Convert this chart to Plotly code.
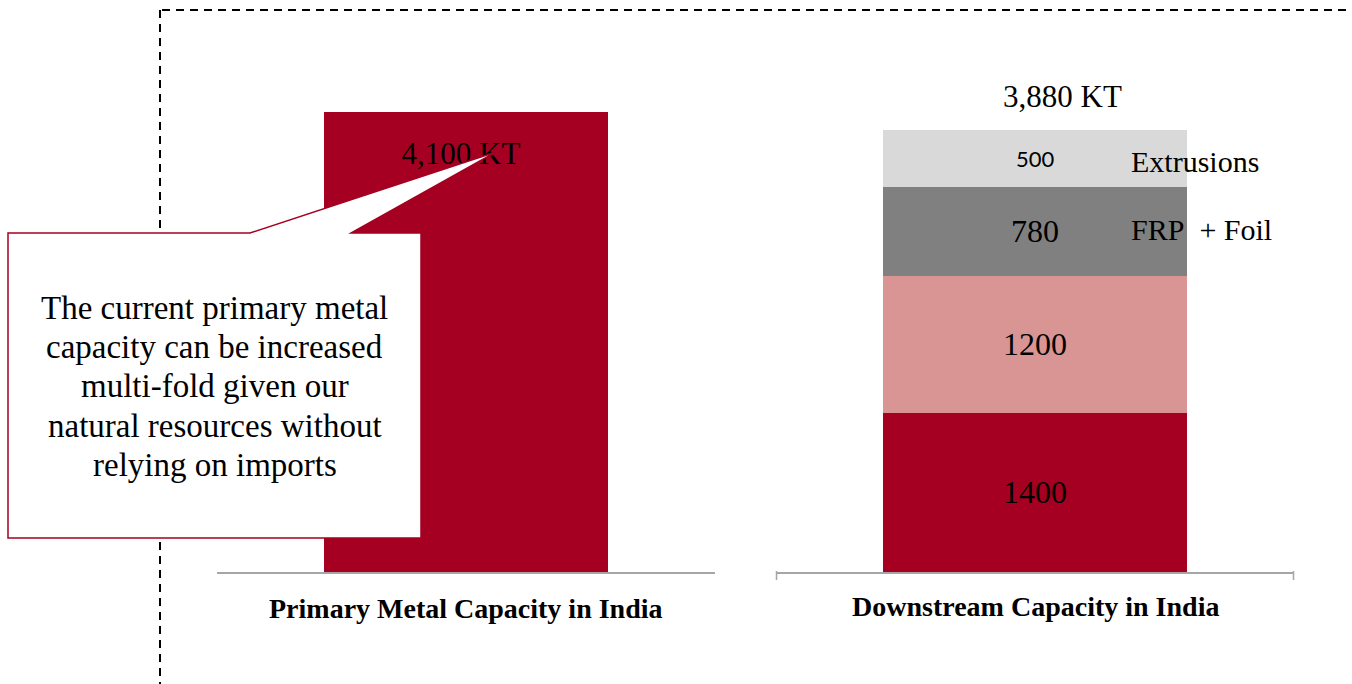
import plotly.graph_objects as go

W, H = 1352, 684

# ---- data ----
primary_category = ["Primary Metal Capacity in India"]
primary_value = [4100]
primary_label = "4,100 KT"

downstream_category = ["Downstream Capacity in India"]
segment_names = ["Rolled", "Sheet", "FRP + Foil", "Extrusions"]
segment_values = [1400, 1200, 780, 500]
segment_colors = ["#A50021", "#D99594", "#808080", "#D9D9D9"]
downstream_total_label = "3,880 KT"
legend_labels = ["FRP + Foil", "Extrusions"]

callout_lines = ["The current primary metal", "capacity can be increased",
                 "multi-fold given our", "natural resources without",
                 "relying on imports"]

SERIF = "Liberation Serif"
SANS = "Lato"

def px(x):
    return x / W

def py(y):
    return 1 - y / H

# plot geometry (pixels)
AXIS_Y = 572
bottom = 1 - AXIS_Y / H
y1_range = 4100 * AXIS_Y / 460
y2_range = 3880 * AXIS_Y / 442
unit1 = y1_range / AXIS_Y  # data units per pixel, left

fig = go.Figure()

fig.add_trace(go.Bar(x=[0], y=primary_value, marker_color="#A50021", marker_line_width=0,
                     width=0.572, xaxis="x", yaxis="y", showlegend=False,
                     hoverinfo="skip"))
# value label drawn in trace layer so the callout pointer overlaps it
fig.add_trace(go.Scatter(x=[-0.01], y=[primary_value[0] - 44 * unit1], mode="text",
                         text=[primary_label], textposition="middle center",
                         textfont=dict(family=SERIF, size=31, color="black"),
                         xaxis="x", yaxis="y", showlegend=False, hoverinfo="skip"))

for name, val, col in zip(segment_names, segment_values, segment_colors):
    fig.add_trace(go.Bar(x=[0], y=[val], marker_color=col, name=name, marker_line_width=0,
                         width=0.585, xaxis="x2", yaxis="y2", showlegend=False,
                         hoverinfo="skip"))

fig.update_layout(
    width=W, height=H, margin=dict(l=0, r=0, t=0, b=0),
    paper_bgcolor="white", plot_bgcolor="white", barmode="stack",
    font=dict(family=SERIF, color="black"),
    xaxis=dict(domain=[px(217), px(715)], range=[-0.5, 0.5], showline=True,
               linecolor="#A6A6A6", linewidth=1.5, ticks="", showgrid=False,
               showticklabels=False, fixedrange=True),
    yaxis=dict(domain=[bottom, 1], range=[0, y1_range], visible=False,
               fixedrange=True),
    xaxis2=dict(domain=[px(776), px(1294)], range=[-0.5, 0.5], showline=True,
                linecolor="#A6A6A6", linewidth=1.5, ticks="", showgrid=False,
                showticklabels=False, anchor="y2", fixedrange=True),
    yaxis2=dict(domain=[bottom, 1], range=[0, y2_range], visible=False,
                anchor="x2", fixedrange=True),
)

shapes = []
# dashed frame
shapes.append(dict(type="line", xref="paper", yref="paper", x0=px(160), x1=px(160),
                   y0=py(10), y1=py(684), line=dict(color="black", width=2, dash="8px,6px")))
shapes.append(dict(type="line", xref="paper", yref="paper", x0=px(162), x1=px(1352),
                   y0=py(10), y1=py(10), line=dict(color="black", width=2, dash="8px,6px")))
# end ticks on the downstream axis
for xe in (776.5, 1293.5):
    shapes.append(dict(type="line", xref="paper", yref="paper", x0=px(xe), x1=px(xe),
                       y0=py(571), y1=py(580), line=dict(color="#A6A6A6", width=1.5)))
# callout
pts = [(8, 233), (250, 233), (496, 152), (351, 233), (421, 233), (421, 538), (8, 538)]
path = "M " + " L ".join(f"{px(x):.5f},{py(y):.5f}" for x, y in pts) + " Z"
shapes.append(dict(type="path", xref="paper", yref="paper", path=path,
                   fillcolor="white", line=dict(color="#A50021", width=1.5), layer="above"))
fig.update_layout(shapes=shapes)

ann = []
# category labels
ann.append(dict(x=px(466), y=py(608), xref="paper", yref="paper",
                xanchor="center", yanchor="middle",
                text="<b>" + primary_category[0] + "</b>", showarrow=False,
                font=dict(family=SERIF, size=28, color="black")))
ann.append(dict(x=px(1035), y=py(606), xref="paper", yref="paper",
                xanchor="center", yanchor="middle",
                text="<b>" + downstream_category[0] + "</b>", showarrow=False,
                font=dict(family=SERIF, size=28, color="black")))
# downstream total
ann.append(dict(x=0, y=sum(segment_values), xref="x2", yref="y2", text=downstream_total_label,
                showarrow=False, yshift=34, xshift=27, font=dict(family=SERIF, size=31, color="black")))
# segment values
cum = 0
seg_fonts = [(SERIF, 32), (SERIF, 32), (SERIF, 32), (SANS, 22)]
for val, (fam, sz) in zip(segment_values, seg_fonts):
    mid = cum + val / 2
    cum += val
    ann.append(dict(x=0, y=mid, xref="x2", yref="y2", text=str(val), showarrow=False,
                    font=dict(family=fam, size=sz, color="black")))
# legend-like labels
cum = 0
mids = {}
for name, val in zip(segment_names, segment_values):
    mids[name] = cum + val / 2
    cum += val
for name in legend_labels:
    if name == "FRP + Foil":
        txt, ys = "FRP&nbsp;&nbsp;+&nbsp;Foil", 2
    else:
        txt, ys = name, -3
    ann.append(dict(x=px(1129), y=mids[name], xref="paper", yref="y2", text=txt,
                    xanchor="left", showarrow=False, yshift=ys,
                    font=dict(family=SERIF, size=30, color="black")))
# callout text
for i, line in enumerate(callout_lines):
    ann.append(dict(x=px(214.5), y=py(308 + 39.2 * i), xref="paper", yref="paper", text=line,
                    showarrow=False, xanchor="center", yanchor="middle",
                    font=dict(family=SERIF, size=33, color="black")))
fig.update_layout(annotations=ann)

fig.write_html("out.html")
